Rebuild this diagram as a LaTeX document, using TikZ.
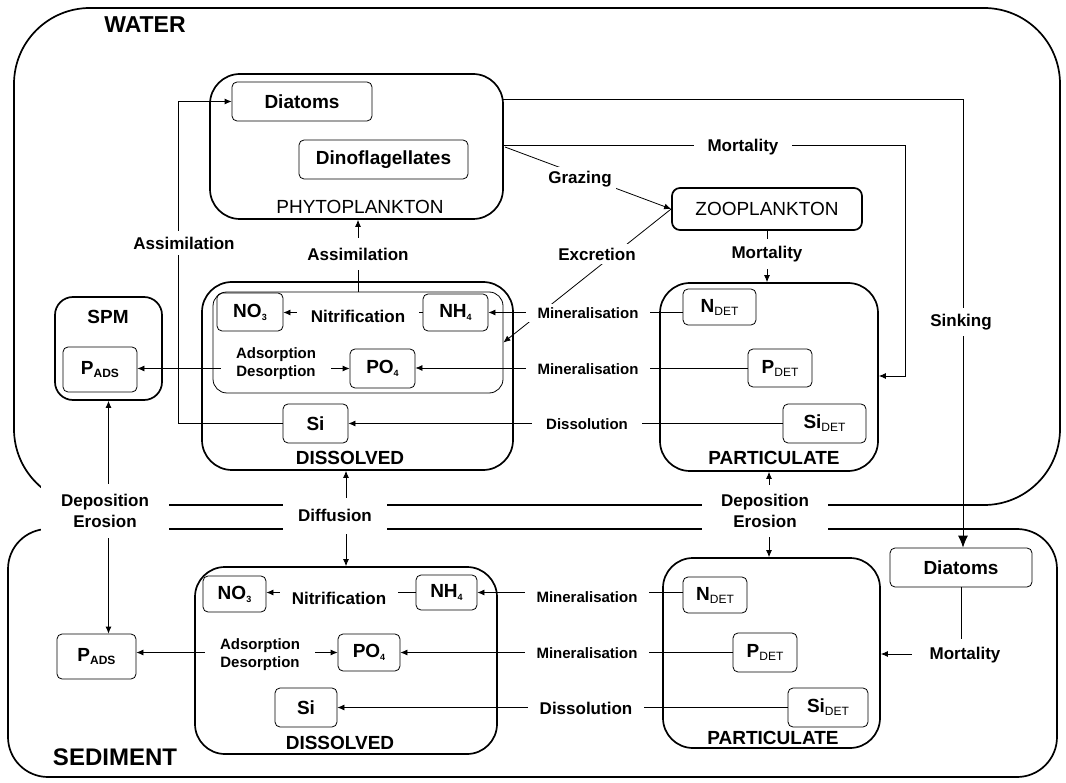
\documentclass[tikz,border=0pt]{standalone}
\usepackage{fontspec}
\setmainfont{Liberation Sans}
\usetikzlibrary{arrows.meta}
\newcommand{\myfs}[2]{\fontsize{#1}{#2}\selectfont}
\newcommand{\dn}[2][9]{\raisebox{-3pt}{\fontsize{#1}{#1}\selectfont #2}}
\begin{document}
\begin{tikzpicture}[x=1pt,y=-1pt,
  every node/.style={inner sep=0pt},
  cont/.style={draw, line width=1.7pt},
  big/.style={draw, line width=1.7pt, rounded corners=#1},
  small/.style={draw, line width=0.8pt, rounded corners=5pt, font=\bfseries\myfs{19}{21}},
  title/.style={font=\myfs{19}{21}},
  btitle/.style={font=\bfseries\myfs{19}{21}},
  lab/.style={fill=white, font=\bfseries\myfs{17}{21}, inner xsep=12pt, inner ysep=3pt, align=center},
  slab/.style={lab, font=\bfseries\myfs{15}{18}},
  conn/.style={line width=0.8pt},
  arr/.style={-{Latex[length=7pt,width=6pt]}},
  barr/.style={-{Latex[length=12pt,width=10pt]}},
  darr/.style={{Latex[length=7pt,width=6pt]}-{Latex[length=7pt,width=6pt]}}
]
\useasboundingbox (0,0) rectangle (1066,783);
% containers
\draw[cont, rounded corners=76pt] (14,8) rectangle (1060,505);
\draw[cont, rounded corners=40pt] (8,529) rectangle (1057,777);
\node[font=\bfseries\myfs{23}{25}] (water) at (145,25) {WATER};
\node[font=\bfseries\myfs{24}{26}] (sediment) at (115,757) {SEDIMENT};

% water big boxes
\node[big=30pt, minimum width=293pt, minimum height=145pt] (phyto) at (356.5,146.5) {};
\node[title] (phytot) at (360,207) {PHYTOPLANKTON};
\node[big=8pt, minimum width=190pt, minimum height=42pt, title] (zoo) at (767,209) {ZOOPLANKTON};
\node[big=30pt, minimum width=311pt, minimum height=188pt] (wdiss) at (357.5,376) {};
\node[btitle] (wdisst) at (350,458) {DISSOLVED};
\node[draw, line width=0.8pt, rounded corners=14pt, minimum width=290pt, minimum height=101pt] (winner) at (358,342.5) {};
\node[big=30pt, minimum width=218pt, minimum height=188pt] (wpart) at (769,377) {};
\node[btitle] (wpartt) at (774,458) {PARTICULATE};
\node[big=18pt, minimum width=107pt, minimum height=103pt] (spm) at (108.5,348.5) {};
\node[btitle] (spmt) at (108,317) {SPM};

% water small boxes
\node[small, minimum width=140pt, minimum height=39pt] (wdia) at (302,101.5) {Diatoms};
\node[small, minimum width=169pt, minimum height=39pt] (wdino) at (383.5,159.5) {Dinoflagellates};
\node[small, minimum width=66pt, minimum height=38pt] (wno3) at (250,312) {NO\dn{3}};
\node[small, minimum width=65pt, minimum height=37pt] (wnh4) at (455.5,312.5) {NH\dn{4}};
\node[small, minimum width=65pt, minimum height=39pt] (wpo4) at (382.5,368.5) {PO\dn{4}};
\node[small, minimum width=74pt, minimum height=45pt] (wpads) at (100,369.5) {P\dn[12]{ADS}};
\node[small, minimum width=65pt, minimum height=39pt] (wsi) at (315.5,423.5) {Si};
\node[small, minimum width=73pt, minimum height=36pt] (wndet) at (719.5,307) {N\dn[12]{\mdseries DET}};
\node[small, minimum width=64pt, minimum height=38pt] (wpdet) at (780,368) {P\dn[12]{\mdseries DET}};
\node[small, minimum width=83pt, minimum height=39pt] (wsidet) at (824.5,423.5) {Si\dn[12]{\mdseries DET}};

% sediment big boxes
\node[big=30pt, minimum width=302pt, minimum height=187pt] (sdiss) at (346,660.5) {};
\node[btitle] (sdisst) at (340,743) {DISSOLVED};
\node[big=30pt, minimum width=217pt, minimum height=190pt] (spart) at (771.5,653) {};
\node[btitle] (spartt) at (773,738) {PARTICULATE};

% sediment small boxes
\node[small, minimum width=142pt, minimum height=39pt] (sdia) at (961,567.5) {Diatoms};
\node[small, minimum width=63pt, minimum height=36pt] (sno3) at (234.5,594) {NO\dn{3}};
\node[small, minimum width=61pt, minimum height=35pt] (snh4) at (446.5,592.5) {NH\dn{4}};
\node[small, minimum width=62pt, minimum height=37pt] (spo4) at (369,652.5) {PO\dn{4}};
\node[small, minimum width=79pt, minimum height=45pt] (spads) at (96.5,656.5) {P\dn[12]{ADS}};
\node[small, minimum width=62pt, minimum height=39pt] (ssi) at (306,707.5) {Si};
\node[small, minimum width=64pt, minimum height=36pt] (sndet) at (715,595) {N\dn[12]{\mdseries DET}};
\node[small, minimum width=64pt, minimum height=39pt] (spdet) at (765,652.5) {P\dn[12]{\mdseries DET}};
\node[small, minimum width=80pt, minimum height=39pt] (ssidet) at (828,707.5) {Si\dn[12]{\mdseries DET}};

% coordinates
\coordinate (ca) at (178,423.5);
\coordinate (s0) at (503,99);
\coordinate (s1) at (963,99);
\coordinate (m0) at (503,145);
\coordinate (m1) at (905,145);
\coordinate (m2) at (905,376);
\coordinate (g0) at (505,147);
\coordinate (sm) at (961,654);

% water connectors
\draw[conn,arr] (wsi.west) -- (ca) |- (wdia.west);
\draw[conn,arr] (winner.north) -- (winner.north |- phyto.south);
\draw[conn,barr] (s0) -- (s1) -- (s1 |- sdia.north);
\draw[conn,arr] (m0) -- (m1) -- (m2) -- (m2 -| wpart.east);
\draw[conn,arr] (g0) -- (zoo.west);
\draw[conn,arr] (zoo.west) -- (winner.east);
\draw[conn,arr] (zoo.south) -- (zoo.south |- wpart.north);
\draw[conn,arr] (wndet.west |- wnh4) -- (wnh4.east);
\draw[conn,arr] (wpdet.west) -- (wpdet.west -| wpo4.east);
\draw[conn,arr] (wsidet.west) -- (wsi.east);
\draw[conn,arr] (wnh4.west) -- (wnh4.west -| wno3.east);
\draw[conn,darr] (wpo4.west) -- (wpo4.west -| wpads.east);
% exchanges
\draw[conn,darr] (spm.south) -- (spm.south |- spads.north);
\draw[conn,darr] (sdiss.north) -- (sdiss.north |- wdiss.south);
\draw[conn,darr] (wpart.south) -- (wpart.south |- spart.north);
% sediment connectors
\draw[conn,arr] (snh4.west) -- (snh4.west -| sno3.east);
\draw[conn,darr] (spo4.west) -- (spo4.west -| spads.east);
\draw[conn,arr] (sndet.west |- snh4) -- (snh4.east);
\draw[conn,arr] (spdet.west) -- (spdet.west -| spo4.east);
\draw[conn,arr] (ssidet.west) -- (ssi.east);
\draw[conn,arr] (sdia.south) -- (sm) -- (sm -| spart.east);

% labels
\node[lab, inner ysep=6pt] (lassim1) at (184,243) {Assimilation};
\node[lab, inner ysep=10pt] (lassim2) at (358,254) {Assimilation};
\node[lab, inner xsep=4pt, inner ysep=6pt] (lsink) at (961,322) {Sinking};
\node[lab, inner xsep=14pt] (lmort1) at (743,147) {Mortality};
\node[lab, inner xsep=4pt, inner ysep=4pt] (lgraz) at (580,179) {Grazing};
\node[lab, inner xsep=4pt, inner ysep=4pt] (lexcr) at (597,254) {Excretion};
\node[lab, inner xsep=4pt, inner ysep=7pt] (lmort2) at (767,254) {Mortality};
\node[slab] (lminw1) at (588,313) {Mineralisation};
\node[slab] (lminw2) at (588,369) {Mineralisation};
\node[slab, inner xsep=14pt] (ldissw) at (587,424) {Dissolution};
\node[lab, inner xsep=14pt] (lnitw) at (358,316) {Nitrification};
\node[slab, inner xsep=15pt] (ladsw) at (276,364) {Adsorption\\Desorption};
\node[lab, minimum width=128pt, minimum height=54pt] (ldep1) at (105,511) {Deposition\\Erosion};
\node[lab, minimum width=104pt, minimum height=36pt] (ldiff) at (335,515.5) {Diffusion};
\node[lab, minimum width=126pt, minimum height=52pt] (ldep2) at (765,511) {Deposition\\Erosion};
\node[lab] (lnits) at (339,598) {Nitrification};
\node[slab, inner xsep=15pt] (ladss) at (260,655) {Adsorption\\Desorption};
\node[slab] (lmins1) at (587,597) {Mineralisation};
\node[slab] (lmins2) at (587,653) {Mineralisation};
\node[lab] (ldisss) at (586,708) {Dissolution};
\node[lab, inner xsep=18pt, inner ysep=8pt] (lmorts) at (965,655) {Mortality};
\end{tikzpicture}
\end{document}
